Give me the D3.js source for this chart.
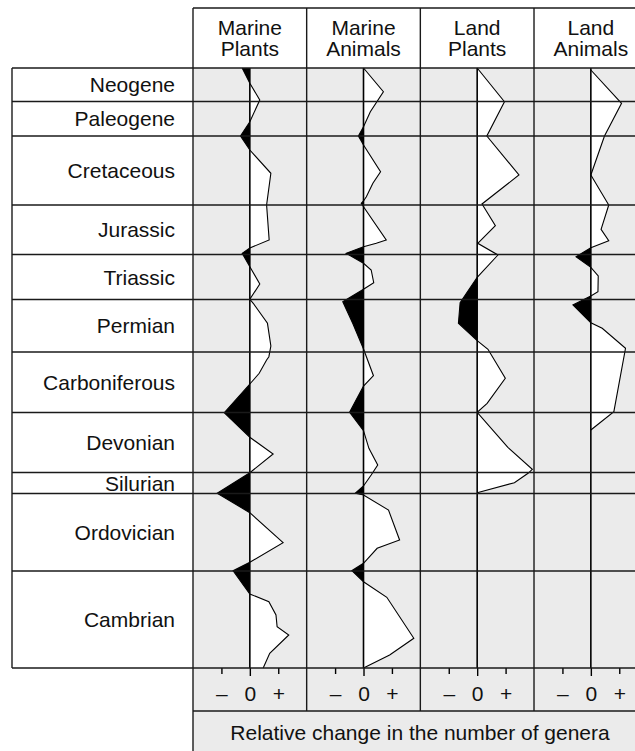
<!DOCTYPE html>
<html>
<head>
<meta charset="utf-8">
<script src="https://cdn.jsdelivr.net/npm/d3@7"></script>
<style>
  body { margin: 0; background: #fff; }
  text { font-family: "Liberation Sans", Arial, Helvetica, sans-serif; fill: #111; }
</style>
</head>
<body>
<script>
// geologic periods, top (youngest) to bottom (oldest)
let periods = ["Neogene", "Paleogene", "Cretaceous", "Jurassic", "Triassic", "Permian",
  "Carboniferous", "Devonian", "Silurian", "Ordovician", "Cambrian"];

// period edges on the vertical position axis (0 = top, 600 = bottom)
let periodEdges = [0, 33.5, 68, 137, 186.5, 231.5, 284, 344.5, 404.5, 425.5, 503, 600];

let groups = [["Marine", "Plants"], ["Marine", "Animals"], ["Land", "Plants"], ["Land", "Animals"]];

let tickValues = [-1, 0, 1];
let tickLabels = ["\u2013", "0", "+"];

// [position, relative change] per group
let marinePlants = [
  [0, -0.27], [15.3, 0], [32, 0.35], [53.7, 0], [68, -0.33], [82, 0], [105.3, 0.74],
  [137, 0.59], [172, 0.68], [180, 0], [185.3, -0.27], [198.7, 0], [216, 0.35], [231.3, 0],
  [235.3, 0.12], [255.3, 0.62], [278, 0.74], [288.7, 0.67], [292, 0.59], [305.3, 0.33],
  [316, 0], [344.7, -0.9], [369.3, 0], [386, 0.82], [404.7, 0], [425.3, -1.15], [444.7, 0],
  [474.7, 1.17], [494.3, 0], [502.7, -0.59], [526, 0], [533.7, 0.67], [547, 0.92],
  [558.7, 0.96], [567, 1.37], [585.3, 0.7], [600, 0.47]
];

let marineAnimals = [
  [0, 0], [23.7, 0.7], [43.7, 0.24], [58.7, 0], [68, -0.18], [77, 0], [103.7, 0.6],
  [115.3, 0.33], [128.7, 0.1], [133, 0], [135.3, -0.08], [138.7, 0], [172, 0.8],
  [175.3, 0.45], [178.7, 0], [185.3, -0.61], [195.3, 0], [202, 0.27], [214.7, 0.36],
  [221.3, 0], [233.7, -0.73], [255.3, -0.38], [281, 0], [307.7, 0.35], [318, 0],
  [344.3, -0.49], [362.7, 0], [380.3, 0.19], [397, 0.5], [407, 0.27], [418, 0],
  [425.3, -0.29], [427, 0], [442, 0.88], [472, 1.27], [480.3, 0.48], [495.3, 0],
  [502.7, -0.41], [513.7, 0], [529.3, 0.82], [570.3, 1.77], [587, 0.92], [600, 0]
];

let landPlants = [
  [0, 0], [33.7, 0.96], [68, 0.34], [107, 1.47], [136, 0.17], [157.7, 0.64], [175.3, 0.02],
  [187, 0.73], [209.3, 0], [234.7, -0.6], [255.3, -0.66], [272.7, 0], [281.3, 0.38],
  [310.3, 0.99], [335.3, 0.35], [344.3, 0], [379.3, 1.08], [401.3, 1.94], [405.3, 1.79],
  [414.7, 1.31], [424.7, 0]
];

let landAnimals = [
  [2, 0], [35.3, 1.08], [68, 0.48], [107, 0], [137, 0.63], [161.3, 0.36], [172.7, 0.63],
  [179.7, 0], [188.7, -0.52], [199.3, 0], [208, 0.26], [223.7, 0.25], [228, 0],
  [237, -0.63], [254.7, 0], [260.3, 0.4], [280.3, 1.22], [343.7, 0.81], [362, 0]
];

let series = [marinePlants, marineAnimals, landPlants, landAnimals];


function init() {

  let svg = d3.select("body")
    .append("svg")
    .attr("width", width)
    .attr("height", height);

  let panelRight = margin.panelLeft + panelW * groups.length;

  // vertical position scale
  let y = d3.scaleLinear()
    .domain([0, 600])
    .range([margin.plotTop, margin.plotBottom]);

  // gray panel background and white header
  svg.append("rect")
    .attr("x", margin.panelLeft).attr("y", margin.plotTop)
    .attr("width", panelRight - margin.panelLeft).attr("height", height - margin.plotTop)
    .attr("fill", gray);

  svg.append("rect")
    .attr("x", margin.panelLeft).attr("y", margin.headerTop)
    .attr("width", panelRight - margin.panelLeft).attr("height", margin.plotTop - margin.headerTop)
    .attr("fill", "#fff");

  groups.forEach((g, i) => {
    let left = margin.panelLeft + panelW * i;
    let x = d3.scaleLinear().domain([-2, 2]).range([left, left + panelW]);
    let data = series[i];

    // positive part white, negative part black
    let pos = d3.area()
      .y(d => y(d[0]))
      .x0(x(0))
      .x1(d => x(Math.max(d[1], 0)));

    let neg = d3.area()
      .y(d => y(d[0]))
      .x0(x(0))
      .x1(d => x(Math.min(d[1], 0)));

    let line = d3.line()
      .x(d => x(d[1]))
      .y(d => y(d[0]));

    svg.append("path").attr("d", pos(data)).attr("fill", "#fff");
    svg.append("path").attr("d", neg(data)).attr("fill", "#000");
    svg.append("path").attr("d", line(data))
      .attr("fill", "none").attr("stroke", "#000").attr("stroke-width", 1.1)
      .attr("stroke-linejoin", "miter");

    // zero line
    svg.append("line")
      .attr("x1", x(0)).attr("x2", x(0))
      .attr("y1", margin.plotTop).attr("y2", margin.plotBottom)
      .attr("stroke", "#000").attr("stroke-width", 1.6);

    // header text
    svg.append("text")
      .attr("x", x(0))
      .attr("text-anchor", "middle")
      .attr("font-size", fontSize)
      .selectAll("tspan")
      .data(g)
      .join("tspan")
        .attr("x", x(0))
        .attr("y", (d, j) => 35 + j * 21)
        .text(d => d);

    // - 0 + axis
    let axis = svg.append("g")
      .attr("transform", `translate(0,${margin.plotBottom})`)
      .call(d3.axisBottom(x).tickValues(tickValues)
        .tickFormat((d, j) => tickLabels[j])
        .tickSize(6).tickPadding(12));
    axis.select(".domain").remove();
    axis.selectAll(".tick line").attr("stroke", "#000").attr("stroke-width", 1.4)
      .attr("y2", d => d == 0 ? 8 : 6);
    axis.selectAll(".tick text")
      .attr("font-size", fontSize)
      .attr("font-family", "Liberation Sans, Arial, sans-serif")
      .attr("fill", "#111");
  });

  // period rows
  svg.append("g")
    .selectAll("line")
    .data(periodEdges)
    .join("line")
      .attr("x1", margin.labelLeft).attr("x2", panelRight)
      .attr("y1", d => y(d)).attr("y2", d => y(d))
      .attr("stroke", stroke).attr("stroke-width", lineW);

  svg.append("g")
    .attr("font-size", fontSize)
    .attr("text-anchor", "end")
    .selectAll("text")
    .data(periods)
    .join("text")
      .attr("x", margin.labelRight)
      .attr("y", (d, i) => (y(periodEdges[i]) + y(periodEdges[i + 1])) / 2 + 0.36 * fontSize)
      .text(d => d);

  // frame lines
  let frame = svg.append("g").attr("stroke", stroke).attr("stroke-width", lineW);
  frame.append("line")
    .attr("x1", margin.labelLeft).attr("x2", margin.labelLeft)
    .attr("y1", margin.plotTop).attr("y2", margin.plotBottom);
  frame.append("line")
    .attr("x1", margin.panelLeft).attr("x2", panelRight)
    .attr("y1", margin.headerTop).attr("y2", margin.headerTop);
  frame.append("line")
    .attr("x1", margin.panelLeft).attr("x2", panelRight)
    .attr("y1", margin.tickBottom).attr("y2", margin.tickBottom);
  frame.selectAll(".divider")
    .data(d3.range(groups.length + 1))
    .join("line")
      .attr("x1", i => margin.panelLeft + panelW * i)
      .attr("x2", i => margin.panelLeft + panelW * i)
      .attr("y1", margin.headerTop)
      .attr("y2", i => i == 0 ? height : margin.tickBottom);

  svg.append("text")
    .attr("x", (margin.panelLeft + 635) / 2 + 6)
    .attr("y", 740)
    .attr("text-anchor", "middle")
    .attr("font-size", fontSize)
    .text("Relative change in the number of genera");

  return svg.node();
}


let gray = "#ebebeb";
let stroke = "#1a1a1a";
let lineW = 1.4;
let fontSize = 21;

let width = 635;

let height = 751;

let panelW = 113.67;

let margin = ({headerTop: 8, plotTop: 68, plotBottom: 668, tickBottom: 711,
  labelLeft: 12, labelRight: 175, panelLeft: 193});

init();
</script>
</body>
</html>
